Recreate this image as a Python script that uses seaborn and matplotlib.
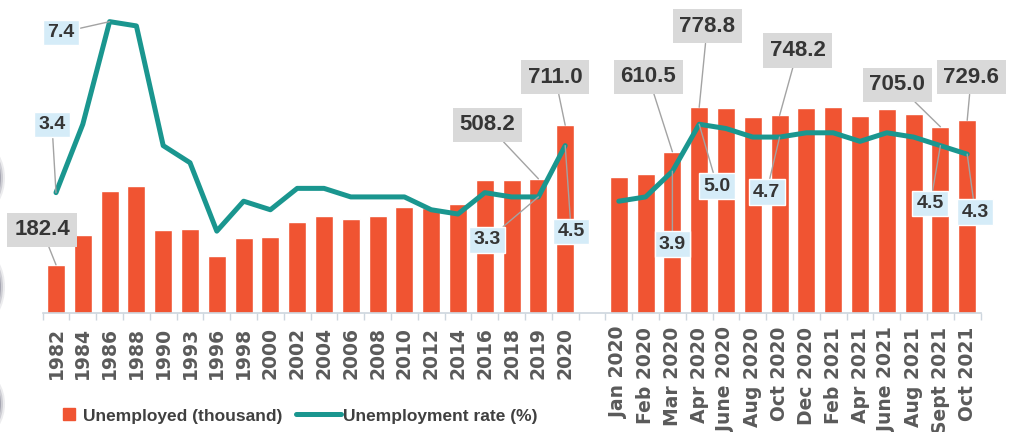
import matplotlib
matplotlib.use("Agg")
import matplotlib.pyplot as plt
from matplotlib.lines import Line2D
from matplotlib.patches import Ellipse
import numpy as np
import pandas as pd
import seaborn as sns

# ---- data -------------------------------------------------------------
years = ["1982", "1984", "1986", "1988", "1990", "1993", "1996", "1998", "2000",
         "2002", "2004", "2006", "2008", "2010", "2012", "2014", "2016", "2018",
         "2019", "2020"]
unemployed_years = [182.4, 295, 462, 481, 314, 318, 216, 284, 288, 345, 367,
                    356, 367, 402, 398, 413, 504, 504, 508.2, 711.0]
rate_years = [3.4, 5.0, 7.4, 7.3, 4.5, 4.1, 2.5, 3.2, 3.0, 3.5, 3.5, 3.3, 3.3,
              3.3, 3.0, 2.9, 3.4, 3.3, 3.3, 4.5]

months = ["Jan 2020", "Feb 2020", "Mar 2020", "Apr 2020", "June 2020",
          "Aug 2020", "Oct 2020", "Dec 2020", "Feb 2021", "Apr 2021",
          "June 2021", "Aug 2021", "Sept 2021", "Oct 2021"]
unemployed_months = [515, 526, 610.5, 778.8, 777, 743, 748.2, 776, 780, 746,
                     773, 754, 705.0, 729.6]
rate_months = [3.2, 3.3, 3.9, 5.0, 4.9, 4.7, 4.7, 4.8, 4.8, 4.6, 4.8, 4.7,
               4.5, 4.3]

# categories that get a value label: (category, offset of the box in pixels)
count_labels = {"1982": (-14, 35), "2019": (-51, 54), "2020": (-10, 48),
                "Mar 2020": (-24, 75), "Apr 2020": (8, 81),
                "Oct 2020": (18, 65), "Sept 2021": (-43, 42),
                "Oct 2021": (4, 43)}
rate_labels = {"1982": (-4, 68), "1986": (-49, -11), "2019": (-51, -43),
               "2020": (6, -86), "Mar 2020": (0, -73), "Apr 2020": (18, -62),
               "Oct 2020": (-13, -55), "Sept 2021": (-10, -58),
               "Oct 2021": (8, -58)}

GAP = " "
order = years + [GAP] + months

bars = pd.DataFrame({"period": years + months,
                     "unemployed": unemployed_years + unemployed_months})
pos = {c: i for i, c in enumerate(order)}
rates = pd.DataFrame({
    "period": years + months,
    "pos": [pos[c] for c in years + months],
    "rate": rate_years + rate_months,
    "segment": ["annual"] * len(years) + ["monthly"] * len(months),
})

# ---- style ------------------------------------------------------------
BAR = "#F05432"
LINE = "#1A968F"
GREY_BOX = "#D9D9D9"
BLUE_BOX = "#D5ECF8"
TEXT = "#353535"
TICK_TEXT = "#5A5A5A"
LABEL_FONT = ["Liberation Sans", "DejaVu Sans"]

sns.set_theme(style="white")
plt.rcParams["font.family"] = ["Liberation Sans", "DejaVu Sans"]

W, H = 1013, 432
fig = plt.figure(figsize=(W / 100, H / 100), dpi=100)
ax = fig.add_axes([42.6 / W, 119 / H, 938 / W, 313 / H])

sns.barplot(data=bars, x="period", y="unemployed", order=order, color=BAR,
            saturation=1, width=0.67, errorbar=None, ax=ax, zorder=2)

ax2 = ax.twinx()
sns.lineplot(data=rates, x="pos", y="rate", units="segment", estimator=None,
             color=LINE, lw=3.6, solid_joinstyle="round",
             solid_capstyle="round", legend=False, ax=ax2, zorder=3)

ax.set_xlim(-0.5, len(order) - 0.5)
ax.set_ylim(0, 1185)
ax2.set_ylim(0.585, 7.906)

for a in (ax, ax2):
    a.set_xlabel("")
    a.set_ylabel("")
    a.set_yticks([])
    for s in ("top", "left", "right"):
        a.spines[s].set_visible(False)
ax2.spines["bottom"].set_visible(False)
ax.spines["bottom"].set_color("#CDD6DE")
ax.spines["bottom"].set_linewidth(1.2)

ax.set_xticks(range(len(order)))
ax.set_xticklabels(order, rotation=90, fontsize=13.5, fontweight="bold",
                   color=TICK_TEXT, family="DejaVu Sans")
ax.set_xticks(np.arange(-0.5, len(order), 1.0), minor=True)
ax.tick_params(axis="x", which="major", length=0, pad=10)
ax.tick_params(axis="x", which="minor", length=5, width=1, color="#CDD6DE",
               bottom=True)

# ---- value call-outs ---------------------------------------------------
value_of = dict(zip(bars["period"], bars["unemployed"]))
rate_of = dict(zip(rates["period"], rates["rate"]))

leader = dict(arrowstyle="-", color="#A3A3A3", lw=1.0, shrinkA=0, shrinkB=0)

for cat, (dx, dy) in count_labels.items():
    v = value_of[cat]
    ax2.annotate(f"{v:.1f}", xy=(pos[cat], v), xycoords=ax.transData,
                 xytext=(dx, dy), textcoords="offset pixels",
                 ha="center", va="center", fontsize=16, fontweight="bold",
                 family=LABEL_FONT, color=TEXT, zorder=6,
                 bbox=dict(boxstyle="square,pad=0.3", fc=GREY_BOX, ec="none"),
                 arrowprops=leader)

for cat, (dx, dy) in rate_labels.items():
    r = rate_of[cat]
    ax2.annotate(f"{r:.1f}", xy=(pos[cat], r), xycoords=ax2.transData,
                 xytext=(dx, dy), textcoords="offset pixels",
                 ha="center", va="center", fontsize=14, fontweight="bold",
                 family=LABEL_FONT, color=TEXT, zorder=6,
                 bbox=dict(boxstyle="square,pad=0.22", fc=BLUE_BOX,
                           ec="white", lw=1),
                 arrowprops=leader)

# ---- legend -------------------------------------------------------------
legend_font = dict(size=12.5, weight="bold", family="Liberation Sans")
h_bar = Line2D([], [], ls="", marker="s", markersize=8, color=BAR)
h_line = Line2D([], [], color=LINE, lw=3.6)
leg1 = fig.legend([h_bar], ["Unemployed (thousand)"], loc="center left",
                  bbox_to_anchor=(62 / W, 1 - 416 / H), frameon=False,
                  handlelength=0.8, handletextpad=0.4, borderpad=0,
                  borderaxespad=0, prop=legend_font)
leg2 = fig.legend([h_line], ["Unemployment rate (%)"], loc="center left",
                  bbox_to_anchor=(296 / W, 1 - 416 / H), frameon=False,
                  handlelength=2.6, handletextpad=0.1, borderpad=0,
                  borderaxespad=0, prop=legend_font)
for leg in (leg1, leg2):
    for t in leg.get_texts():
        t.set_color("#404040")

# ---- dark round edges along the left border ----------------------------
for cy, hh in ((178, 58), (287, 62), (404, 54)):
    for grow, alpha in ((8, 0.1), (4, 0.18), (0, 0.3)):
        fig.patches.append(Ellipse((-16, H - cy), 34 + grow, hh + grow,
                                   transform=None, fc="#4A4A62",
                                   ec="none", alpha=alpha, zorder=0))

fig.savefig("out.png", dpi=100, facecolor="white")
